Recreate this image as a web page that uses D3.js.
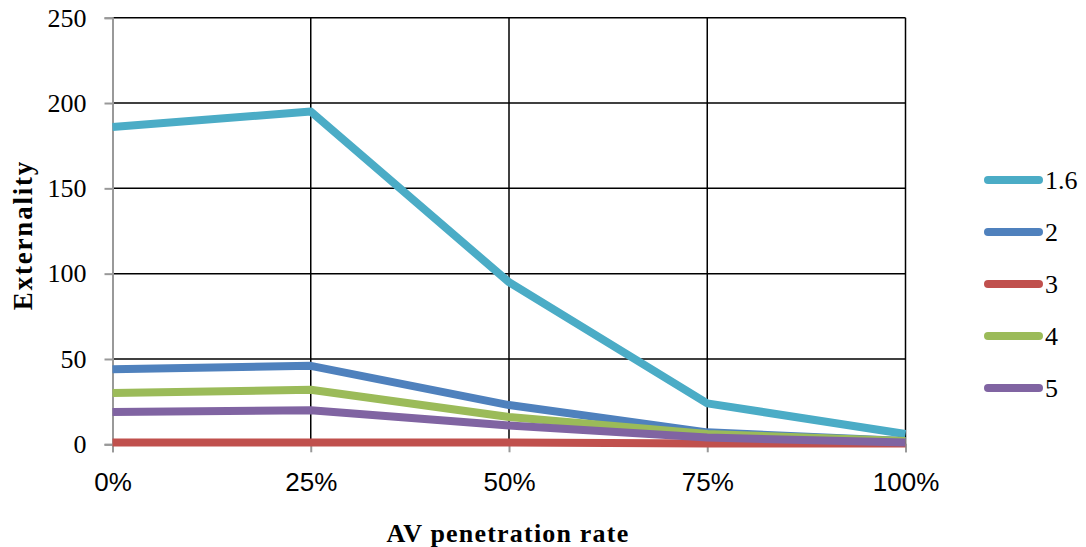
<!DOCTYPE html>
<html>
<head>
<meta charset="utf-8">
<script src="https://cdn.jsdelivr.net/npm/d3@7"></script>
<style>
  html, body { margin: 0; padding: 0; background: #fff; }
  svg { display: block; }
</style>
</head>
<body>
<svg id="chart" width="1086" height="547"></svg>
<script>
// Externality by AV penetration rate, one line per series
const categories = ["0%", "25%", "50%", "75%", "100%"];
const seriesNames = ["1.6", "2", "3", "4", "5"];
const s16 = [186, 195, 95, 24, 6];
const s2  = [44, 46, 23, 7, 2];
const s3  = [1, 1, 1, 0.5, 0.5];
const s4  = [30, 32, 16, 6, 2];
const s5  = [19, 20, 11, 4, 1];
const yTicks = [0, 50, 100, 150, 200, 250];
const colors = ["#4BACC6", "#4F81BD", "#C0504D", "#9BBB59", "#8064A2"];
const seriesValues = [s16, s2, s3, s4, s5];

const svg = d3.select("#chart");
const plot = { left: 112.5, right: 905.5, top: 17.7, bottom: 444.3 };

const x = d3.scalePoint().domain(categories).range([plot.left, plot.right]);
const y = d3.scaleLinear().domain([0, 250]).range([plot.bottom, plot.top]);

// horizontal gridlines
svg.append("g").selectAll("line").data(yTicks.filter(d => d > 0)).join("line")
  .attr("x1", plot.left).attr("x2", plot.right)
  .attr("y1", d => y(d)).attr("y2", d => y(d))
  .attr("stroke", "#000").attr("stroke-width", 1.5);

// vertical gridlines
svg.append("g").selectAll("line").data(categories.slice(1)).join("line")
  .attr("x1", d => x(d)).attr("x2", d => x(d))
  .attr("y1", plot.top).attr("y2", plot.bottom)
  .attr("stroke", "#000").attr("stroke-width", 1.5);

// y axis
const yAxis = svg.append("g").attr("transform", `translate(${plot.left},0)`)
  .call(d3.axisLeft(y).tickValues(yTicks).tickSize(8).tickPadding(18));
yAxis.select(".domain").attr("stroke", "#999").attr("stroke-width", 2);
yAxis.selectAll(".tick line").attr("stroke", "#999").attr("stroke-width", 2);
yAxis.selectAll(".tick text")
  .attr("font-family", "'Liberation Serif', serif").attr("font-size", 26)
  .attr("fill", "#000");

// x axis
const xAxis = svg.append("g").attr("transform", `translate(0,${plot.bottom})`)
  .call(d3.axisBottom(x).tickSize(8).tickPadding(20));
xAxis.select(".domain").attr("stroke", "#999").attr("stroke-width", 2);
xAxis.selectAll(".tick line").attr("stroke", "#999").attr("stroke-width", 2);
xAxis.selectAll(".tick text")
  .attr("font-family", "'Liberation Sans', Arial, sans-serif").attr("font-size", 26)
  .attr("fill", "#000");

// series lines
const line = d3.line().x((d, i) => x(categories[i])).y(d => y(d));
svg.append("g").selectAll("path").data(seriesValues).join("path")
  .attr("d", d => line(d))
  .attr("fill", "none")
  .attr("stroke", (d, i) => colors[i])
  .attr("stroke-width", 8)
  .attr("stroke-linejoin", "round");

// axis titles
svg.append("text")
  .attr("x", (plot.left + plot.right) / 2 - 1).attr("y", 542)
  .attr("text-anchor", "middle")
  .attr("font-family", "'Liberation Serif', serif").attr("font-weight", "bold")
  .attr("font-size", 26).attr("letter-spacing", 1.2)
  .text("AV penetration rate");

svg.append("text")
  .attr("transform", "translate(32,235) rotate(-90)")
  .attr("text-anchor", "middle")
  .attr("font-family", "'Liberation Serif', serif").attr("font-weight", "bold")
  .attr("font-size", 27).attr("letter-spacing", 1.8)
  .text("Externality");

// legend
const legend = svg.append("g").selectAll("g").data(seriesNames).join("g")
  .attr("transform", (d, i) => `translate(0,${180 + i * 52})`);
legend.append("line")
  .attr("x1", 988).attr("x2", 1039).attr("y1", 0).attr("y2", 0)
  .attr("stroke", (d, i) => colors[i]).attr("stroke-width", 8)
  .attr("stroke-linecap", "round");
legend.append("text")
  .attr("x", 1045).attr("y", 9)
  .attr("font-family", "'Liberation Serif', serif").attr("font-size", 26)
  .text(d => d);
</script>
</body>
</html>
